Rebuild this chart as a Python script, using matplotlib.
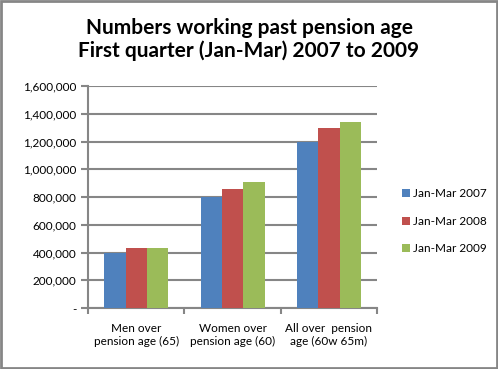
import numpy as np
import matplotlib.pyplot as plt
from matplotlib.patches import Rectangle
from matplotlib.ticker import FuncFormatter

categories = ["Men over\npension age (65)", "Women over\npension age (60)", "All over  pension\nage (60w 65m)"]
series = ["Jan-Mar 2007", "Jan-Mar 2008", "Jan-Mar 2009"]
v2007 = [398000, 800000, 1199000]
v2008 = [432000, 858000, 1297000]
v2009 = [432000, 908000, 1341000]
colors = ["#4f81bd", "#c0504d", "#9bbb59"]

plt.rcParams['font.family'] = ['Lato', 'DejaVu Sans']

fig = plt.figure(figsize=(4.98, 3.69), dpi=100)
ax = fig.add_axes([0.177, 0.165, 0.580, 0.602])

x = np.arange(len(categories))
w = 0.222
for i, (vals, lab, c) in enumerate(zip([v2007, v2008, v2009], series, colors)):
    ax.bar(x + (i - 1) * w, vals, w, color=c, label=lab, zorder=3)

ax.set_xlim(-0.5, 2.5)
ax.set_ylim(0, 1600000)
ax.set_yticks(np.arange(0, 1600001, 200000))
ax.yaxis.set_major_formatter(FuncFormatter(lambda v, p: "-" if v == 0 else f"{int(v):,}"))
ax.grid(axis="y", color="#868686", linewidth=1.5, zorder=0)
ax.set_xticks(x)
ax.set_xticklabels(categories, fontsize=8.5)
ax.tick_params(axis="x", length=0, pad=11)
ax.set_xticks([-0.5, 0.5, 1.5, 2.5], minor=True)
ax.tick_params(axis="x", which="minor", length=4, width=1.5, color="#868686")
ax.tick_params(axis="y", length=5, width=1.5, color="#868686", labelsize=8.5)
for s in ["top", "right"]:
    ax.spines[s].set_visible(False)
for s in ["left", "bottom"]:
    ax.spines[s].set_color("#868686")
    ax.spines[s].set_linewidth(1.5)

fig.text(0.5, 0.893, "Numbers working past pension age\nFirst quarter (Jan-Mar) 2007 to 2009",
         ha="center", va="center", fontsize=15, fontweight="bold", linespacing=1.2)

fig.legend(loc="center left", bbox_to_anchor=(0.785, 0.40), frameon=False,
           fontsize=8.5, handlelength=0.7, handleheight=0.7, labelspacing=1.4,
           handletextpad=0.3)

fig.patches.append(Rectangle((0.002, 0.003), 0.996, 0.994, transform=fig.transFigure,
                             fill=False, edgecolor="#868686", linewidth=2))

fig.savefig("out.png", dpi=100)
